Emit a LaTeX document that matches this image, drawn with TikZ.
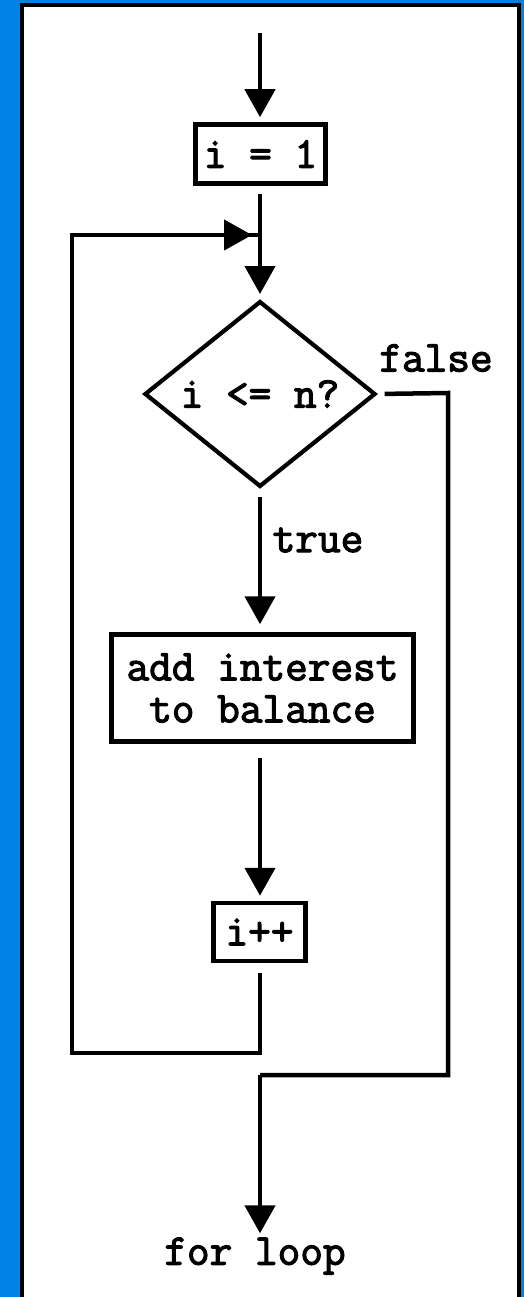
\documentclass[tikz,border=0pt]{standalone}
\usepackage{fontspec}
\setmonofont{Latin Modern Mono}[FakeBold=2.6]
\usetikzlibrary{shapes.geometric,arrows.meta}
\definecolor{pageblue}{RGB}{0,130,228}
\begin{document}
\begin{tikzpicture}[x=1pt,y=-1pt,
  every node/.style={font=\ttfamily\fontsize{44}{42}\selectfont, inner sep=0pt},
  stepbox/.style={draw, line width=4.5pt, align=center},
  decision/.style={draw, diamond, line width=4.2pt, minimum width=231pt, minimum height=175pt},
  flow/.style={line width=4.5pt, -{Triangle[width=30pt,length=28pt]}},
  plain/.style={line width=4.5pt}]
  % page area, background and frame
  \useasboundingbox (0,0) rectangle (524,1297);
  \clip (0,0) rectangle (524,1297);
  \fill[pageblue] (0,0) rectangle (524,1297);
  \filldraw[fill=white, draw=black, line width=4pt] (22,5) rectangle (518.5,1320);

  % nodes
  \coordinate (start) at (260,33);
  \node[stepbox, minimum width=130pt, minimum height=59pt] (init) at (260.5,154) {i = 1};
  \node[decision] (cond) at (260,394) {i <= n?};
  \node[stepbox, minimum width=302pt, minimum height=107pt] (body) at (262.5,688) {add interest\\to balance};
  \node[stepbox, minimum width=92pt, minimum height=58pt] (inc) at (259.5,932) {i++};
  \node (done) at (255,1256) {for loop};
  \node (truelbl) at (318,540) {true};
  \node (falselbl) at (436,358) {false};

  % bend points of the loop-back and exit paths
  \coordinate (join) at (260,235);
  \coordinate (backA) at (260,1053);
  \coordinate (backB) at (72,1053);
  \coordinate (backC) at (72,235);
  \coordinate (exitA) at (448,393);
  \coordinate (exitB) at (448,1075);
  \coordinate (exitC) at (260,1075);

  % connectors, all vertical runs on the main axis
  \draw[flow, shorten >=5pt] (start) -- (init.north -| start);
  \draw[flow, shorten <=8pt, shorten >=5pt] (init.south -| start) -- (cond.north);
  \draw[flow, shorten <=8pt, shorten >=8pt] (cond.south) -- (body.north -| cond.south);
  \draw[flow, shorten <=14pt, shorten >=5pt] (body.south -| cond.south) -- (inc.north -| cond.south);
  \draw[plain, shorten <=10pt] (inc.south -| backA) -- (backA) -- (backB) -- (backC) -- (join);
  \draw[flow, shorten >=8pt] (backC) -- (join);
  \draw[plain, shorten <=7pt] (cond.east) -- (exitA) -- (exitB) -- (exitC);
  \draw[flow, shorten >=4pt] (exitC) -- (done.north -| exitC);
\end{tikzpicture}
\end{document}
